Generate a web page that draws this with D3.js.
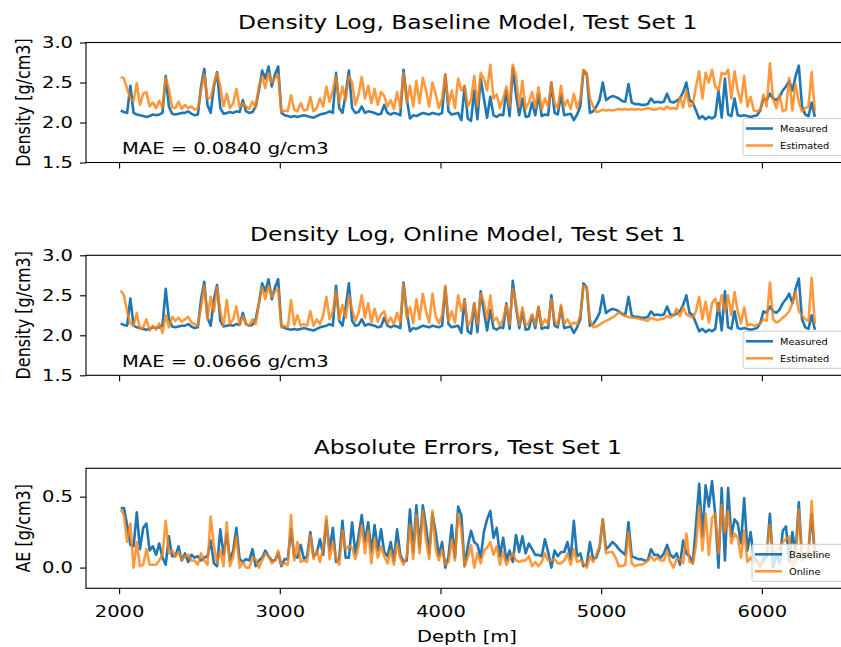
<!DOCTYPE html>
<html>
<head>
<meta charset="utf-8">
<script src="https://cdn.jsdelivr.net/npm/d3@7"></script>
<style>
  body { margin: 0; background: #fff; }
  text { font-family: "DejaVu Sans", sans-serif; fill: #000; }
</style>
</head>
<body>
<svg id="chart" width="841" height="647"></svg>
<script>
// sampling grid of the logs (m)
const depthStart = 2010;
const depthStep = 20;

// measured density log [g/cm3]
const measured = [
  2.15, 2.13, 2.12, 2.46, 2.12, 2.10, 2.09, 2.08, 2.07, 2.08,
  2.10, 2.09, 2.10, 2.12, 2.58, 2.20, 2.11, 2.10, 2.11, 2.12,
  2.12, 2.14, 2.11, 2.09, 2.10, 2.45, 2.67, 2.22, 2.12, 2.45,
  2.63, 2.18, 2.11, 2.12, 2.13, 2.12, 2.14, 2.13, 2.28, 2.14,
  2.12, 2.13, 2.20, 2.40, 2.65, 2.55, 2.70, 2.45, 2.60, 2.70,
  2.12, 2.09, 2.08, 2.07, 2.08, 2.07, 2.08, 2.09, 2.08, 2.07,
  2.06, 2.08, 2.10, 2.11, 2.12, 2.14, 2.12, 2.62, 2.18, 2.12,
  2.35, 2.65, 2.18, 2.12, 2.13, 2.20, 2.12, 2.14, 2.13, 2.12,
  2.10, 2.11, 2.22, 2.12, 2.10, 2.12, 2.11, 2.09, 2.66, 2.30,
  2.05, 2.09, 2.08, 2.10, 2.12, 2.11, 2.10, 2.12, 2.11, 2.10,
  2.12, 2.60, 2.14, 2.10, 2.11, 2.12, 2.03, 2.45, 2.05, 2.02,
  2.40, 2.04, 2.55, 2.30, 2.06, 2.32, 2.09, 2.07, 2.10, 2.09,
  2.40, 2.08, 2.68, 2.35, 2.09, 2.30, 2.07, 2.08, 2.25, 2.09,
  2.35, 2.08, 2.10, 2.09, 2.50, 2.12, 2.10, 2.35, 2.09, 2.10,
  2.11, 2.03, 2.10, 2.20, 2.65, 2.60, 2.12, 2.14, 2.20, 2.28,
  2.50, 2.28, 2.31, 2.33, 2.32, 2.30, 2.27, 2.26, 2.48, 2.25,
  2.23, 2.23, 2.22, 2.22, 2.23, 2.30, 2.25, 2.26, 2.25, 2.26,
  2.36, 2.26, 2.25, 2.27, 2.30, 2.38, 2.50, 2.28, 2.25, 2.15,
  2.05, 2.08, 2.04, 2.07, 2.05, 2.08, 2.40, 2.06, 2.55, 2.10,
  2.08, 2.30, 2.09, 2.08, 2.09, 2.08, 2.07, 2.08, 2.09, 2.15,
  2.30, 2.28, 2.36, 2.30, 2.28, 2.32, 2.40, 2.45, 2.52, 2.40,
  2.58, 2.71, 2.20, 2.10, 2.08, 2.25, 2.07
];

// baseline model estimate [g/cm3]
const baselineEst = [
  2.57, 2.55, 2.42, 2.30, 2.27, 2.49, 2.22, 2.36, 2.38, 2.20,
  2.25, 2.18, 2.27, 2.19, 2.56, 2.42, 2.19, 2.18, 2.26, 2.17,
  2.22, 2.18, 2.20, 2.16, 2.18, 2.40, 2.60, 2.30, 2.31, 2.48,
  2.62, 2.45, 2.20, 2.36, 2.18, 2.24, 2.42, 2.19, 2.24, 2.20,
  2.17, 2.26, 2.19, 2.45, 2.58, 2.43, 2.62, 2.50, 2.55, 2.60,
  2.13, 2.15, 2.14, 2.34, 2.16, 2.14, 2.24, 2.15, 2.16, 2.32,
  2.14, 2.18, 2.30, 2.20, 2.45, 2.26, 2.40, 2.58, 2.25, 2.45,
  2.28, 2.58, 2.50, 2.22, 2.35, 2.57, 2.30, 2.46, 2.24, 2.42,
  2.22, 2.38, 2.33, 2.20, 2.28, 2.17, 2.38, 2.18, 2.62, 2.25,
  2.46, 2.20, 2.52, 2.24, 2.56, 2.40, 2.20, 2.50, 2.36, 2.18,
  2.30, 2.60, 2.22, 2.40, 2.18, 2.55, 2.40, 2.46, 2.20, 2.28,
  2.58, 2.20, 2.62, 2.55, 2.40, 2.72, 2.30, 2.35, 2.18, 2.30,
  2.45, 2.20, 2.72, 2.58, 2.20, 2.52, 2.17, 2.25, 2.38, 2.18,
  2.44, 2.16, 2.30, 2.20, 2.50, 2.24, 2.18, 2.46, 2.20, 2.28,
  2.17, 2.36, 2.18, 2.30, 2.66, 2.62, 2.30, 2.20, 2.13, 2.14,
  2.16, 2.15, 2.16, 2.15, 2.16, 2.17, 2.16, 2.17, 2.16, 2.17,
  2.16, 2.17, 2.16, 2.17, 2.18, 2.17, 2.16, 2.17, 2.18, 2.16,
  2.20, 2.17, 2.18, 2.17, 2.32, 2.19, 2.40, 2.20, 2.22, 2.45,
  2.64, 2.30, 2.62, 2.50, 2.66, 2.45, 2.40, 2.62, 2.60, 2.66,
  2.30, 2.64, 2.40, 2.25, 2.58, 2.20, 2.32, 2.15, 2.14, 2.16,
  2.35, 2.20, 2.74, 2.30, 2.18, 2.35, 2.14, 2.16, 2.56, 2.15,
  2.48, 2.25, 2.14, 2.18, 2.20, 2.63, 2.14
];

// online model estimate [g/cm3]
const onlineEst = [
  2.56, 2.50, 2.30, 2.15, 2.12, 2.28, 2.08, 2.10, 2.20, 2.06,
  2.12, 2.07, 2.15, 2.03, 2.25, 2.10, 2.23, 2.18, 2.22, 2.17,
  2.20, 2.23, 2.16, 2.14, 2.12, 2.35, 2.62, 2.20, 2.48, 2.30,
  2.60, 2.30, 2.12, 2.44, 2.14, 2.20, 2.36, 2.13, 2.24, 2.14,
  2.12, 2.20, 2.14, 2.40, 2.60, 2.45, 2.62, 2.48, 2.55, 2.58,
  2.10, 2.12, 2.10, 2.44, 2.13, 2.25, 2.12, 2.14, 2.12, 2.30,
  2.12, 2.20, 2.14, 2.25, 2.48, 2.20, 2.30, 2.55, 2.20, 2.38,
  2.22, 2.50, 2.32, 2.18, 2.28, 2.50, 2.22, 2.40, 2.16, 2.33,
  2.17, 2.26, 2.30, 2.15, 2.22, 2.14, 2.28, 2.16, 2.64, 2.22,
  2.35, 2.15, 2.45, 2.20, 2.52, 2.30, 2.16, 2.52, 2.24, 2.15,
  2.25, 2.62, 2.18, 2.30, 2.16, 2.50, 2.30, 2.44, 2.12, 2.18,
  2.40, 2.14, 2.52, 2.42, 2.20, 2.50, 2.18, 2.22, 2.12, 2.20,
  2.38, 2.14, 2.58, 2.40, 2.13, 2.35, 2.12, 2.16, 2.26, 2.13,
  2.36, 2.12, 2.20, 2.14, 2.45, 2.18, 2.13, 2.38, 2.14, 2.20,
  2.13, 2.16, 2.14, 2.25, 2.62, 2.60, 2.20, 2.10, 2.11, 2.13,
  2.16, 2.18, 2.20, 2.22, 2.25, 2.29, 2.26, 2.24, 2.23, 2.22,
  2.22, 2.21, 2.20, 2.19, 2.18, 2.22, 2.20, 2.19, 2.20, 2.21,
  2.24, 2.22, 2.25, 2.33, 2.24, 2.35, 2.26, 2.24, 2.22, 2.30,
  2.48, 2.20, 2.42, 2.16, 2.40, 2.46, 2.30, 2.50, 2.30, 2.50,
  2.25, 2.54, 2.30, 2.15, 2.35, 2.12, 2.14, 2.12, 2.13, 2.15,
  2.20, 2.18, 2.66, 2.20, 2.16, 2.18, 2.22, 2.25, 2.30, 2.40,
  2.54, 2.30, 2.25, 2.20, 2.18, 2.72, 2.14
];

// absolute errors of both models
const baselineAE = baselineEst.map((v, i) => Math.abs(v - measured[i]));
const onlineAE = onlineEst.map((v, i) => Math.abs(v - measured[i]));

const depthTicks = [2000, 3000, 4000, 5000, 6000];
const densityTicks = [1.5, 2.0, 2.5, 3.0];
const aeTicks = [0.0, 0.5];

const blue = "#1f77b4";
const orange = "#ff7f0e";

// the picture is stretched sideways, so is the text
const sx = 1.22;
const fontSize = 16, titleSize = 19.2, legendSize = 8;

let svg = d3.select("#chart");
let left = 86, right = 849.6, panelH = 120;

let x = d3.scaleLinear().domain([1794, 6546]).range([left, right]);

let panels = [
    {top: 42.5, domain: [1.5, 3.0], ticks: densityTicks,
     title: "Density Log, Baseline Model, Test Set 1", ylabel: "Density [g/cm3]",
     series: [{values: measured, color: blue, label: "Measured"},
              {values: baselineEst, color: orange, label: "Estimated", alpha: 0.8}],
     note: "MAE = 0.0840 g/cm3", legendX: 743, textX: 780},
    {top: 255.3, domain: [1.5, 3.0], ticks: densityTicks,
     title: "Density Log, Online Model, Test Set 1", ylabel: "Density [g/cm3]",
     series: [{values: measured, color: blue, label: "Measured"},
              {values: onlineEst, color: orange, label: "Estimated", alpha: 0.8}],
     note: "MAE = 0.0666 g/cm3", legendX: 743, textX: 780},
    {top: 468.3, domain: [-0.146, 0.70], ticks: aeTicks,
     title: "Absolute Errors, Test Set 1", ylabel: "AE [g/cm3]",
     series: [{values: baselineAE, color: blue, label: "Baseline"},
              {values: onlineAE, color: orange, label: "Online", alpha: 0.8}],
     note: null, legendX: 752, textX: 789, xlabels: true}
];

panels.forEach((p, k) => drawPanel(p, k));

svg.append("text")
    .attr("transform", `translate(467,642) scale(${sx},1)`)
    .attr("text-anchor", "middle")
    .style("font-size", fontSize + "px")
    .text("Depth [m]");

function drawPanel(p, k) {
    let g = svg.append("g");
    let y = d3.scaleLinear().domain(p.domain).range([p.top + panelH, p.top]);

    let clipId = "clip" + k;
    svg.append("clipPath").attr("id", clipId)
      .append("rect")
        .attr("x", left).attr("y", p.top)
        .attr("width", right - left).attr("height", panelH);

    let line = d3.line()
        .x((v, i) => x(depthStart + i * depthStep))
        .y(v => y(v));

    g.append("g").attr("clip-path", "url(#" + clipId + ")")
      .selectAll("path")
      .data(p.series)
      .join("path")
        .attr("d", d => line(d.values))
        .attr("fill", "none")
        .attr("stroke", d => d.color)
        .attr("stroke-opacity", d => d.alpha || 1)
        .attr("stroke-width", 2.6)
        .attr("stroke-linejoin", "round");

    // frame
    g.append("rect")
        .attr("x", left).attr("y", p.top)
        .attr("width", right - left).attr("height", panelH)
        .attr("fill", "none").attr("stroke", "#000").attr("stroke-width", 1.1);

    let yAxis = g.append("g")
        .attr("transform", `translate(${left},0)`)
        .call(d3.axisLeft(y).tickValues(p.ticks).tickFormat(d3.format(".1f"))
                .tickSize(6).tickPadding(7));
    yAxis.select(".domain").remove();
    yAxis.selectAll(".tick text")
        .attr("x", -13 / sx)
        .attr("transform", `scale(${sx},1)`);

    let xAxis = g.append("g")
        .attr("transform", `translate(0,${p.top + panelH})`)
        .call(d3.axisBottom(x).tickValues(depthTicks)
                .tickFormat(p.xlabels ? d3.format("d") : "")
                .tickSize(6).tickPadding(11));
    xAxis.select(".domain").remove();
    xAxis.selectAll(".tick text").attr("transform", `scale(${sx},1)`);

    g.selectAll(".tick line").attr("stroke", "#000").attr("stroke-width", 1.1);
    g.selectAll(".tick text")
        .style("font-family", '"DejaVu Sans", sans-serif')
        .style("font-size", fontSize + "px")
        .attr("fill", "#000");

    g.append("text")
        .attr("transform", `translate(${(left + right) / 2},${p.top - 14}) scale(${sx},1)`)
        .attr("text-anchor", "middle")
        .style("font-size", titleSize + "px")
        .text(p.title);

    g.append("text")
        .attr("transform", `translate(30,${p.top + panelH / 2}) scale(${sx},1) rotate(-90)`)
        .attr("text-anchor", "middle")
        .style("font-size", fontSize + "px")
        .text(p.ylabel);

    if (p.note) {
        g.append("text")
            .attr("transform", `translate(122,${p.top + 111.5}) scale(${sx},1)`)
            .style("font-size", fontSize + "px")
            .text(p.note);
    }

    // legend, lower right
    let bottom = p.top + panelH;
    let lg = g.append("g");
    lg.append("rect")
        .attr("x", p.legendX).attr("y", bottom - 44)
        .attr("width", 846 - p.legendX).attr("height", 37)
        .attr("rx", 2)
        .attr("fill", "#fff").attr("fill-opacity", 0.8)
        .attr("stroke", "#ccc").attr("stroke-width", 1);
    p.series.forEach((s, j) => {
        let ly = bottom - 34 + j * 17;
        lg.append("line")
            .attr("x1", p.legendX + 3).attr("x2", p.legendX + 30)
            .attr("y1", ly).attr("y2", ly)
            .attr("stroke", s.color).attr("stroke-opacity", s.alpha || 1)
            .attr("stroke-width", 2.6);
        lg.append("text")
            .attr("transform", `translate(${p.textX},${ly + 3.5}) scale(${sx},1)`)
            .style("font-size", legendSize + "px")
            .text(s.label);
    });
}
</script>
</body>
</html>
